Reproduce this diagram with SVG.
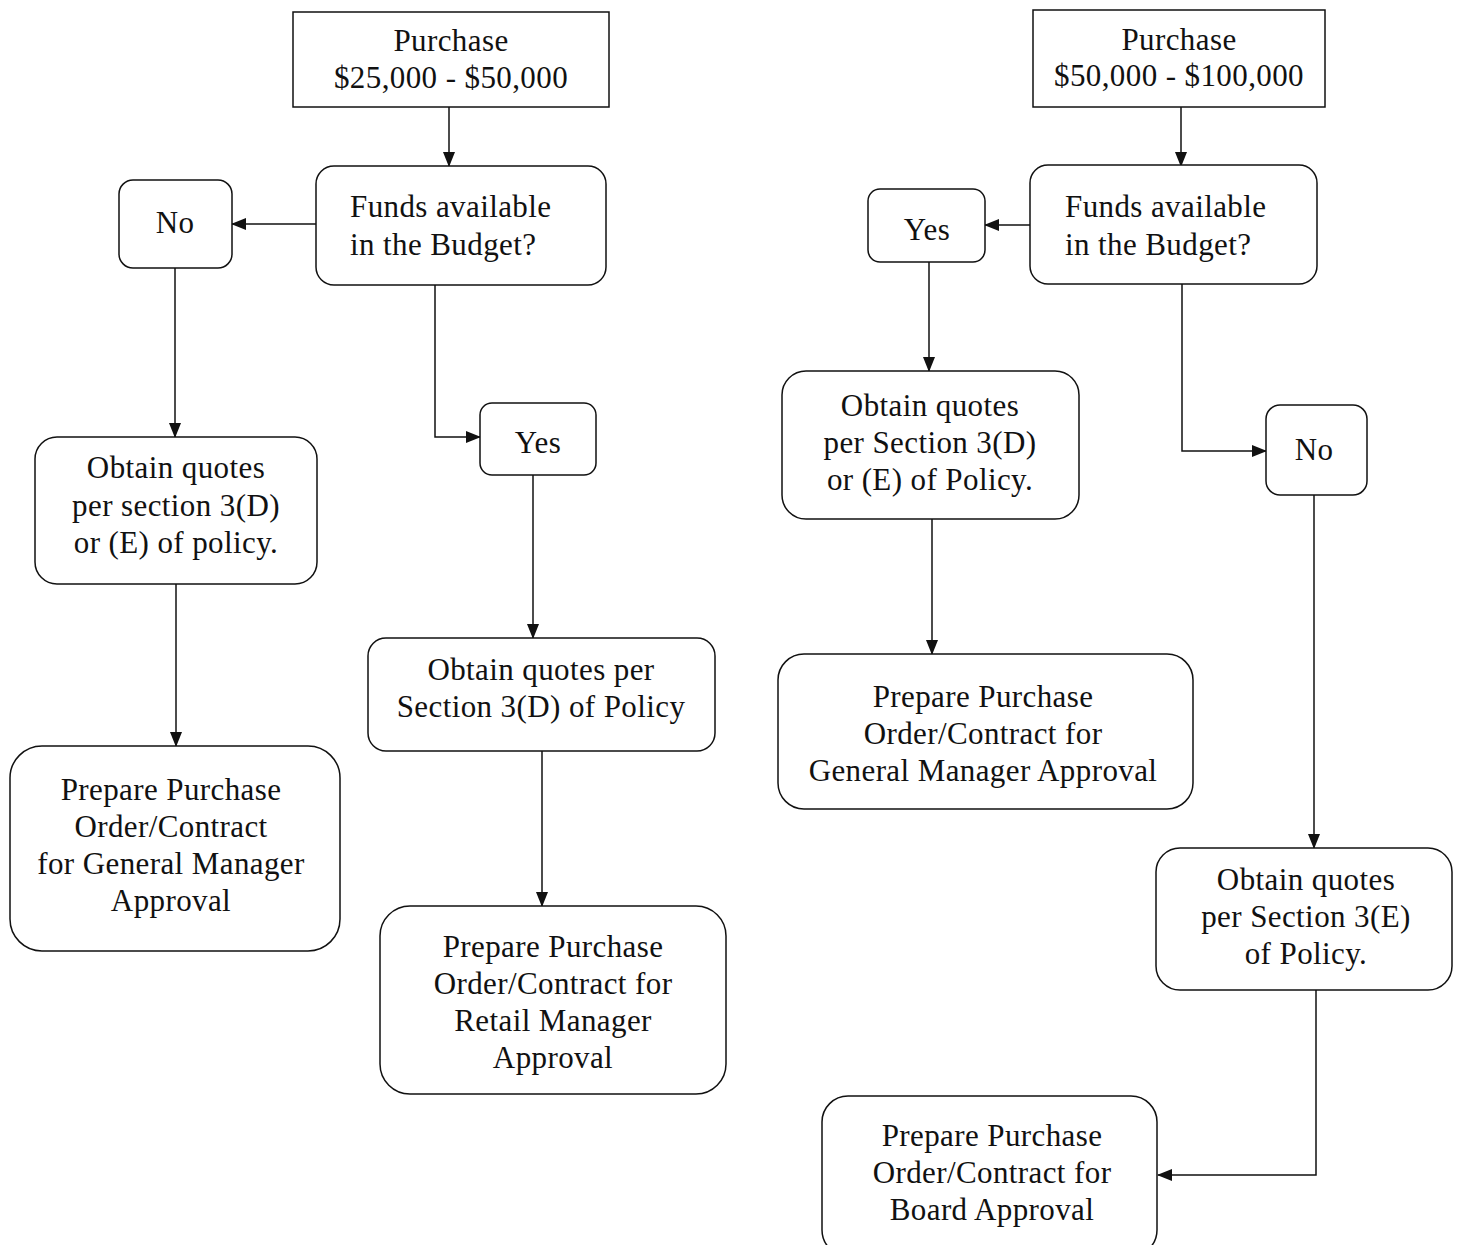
<svg xmlns="http://www.w3.org/2000/svg" width="1459" height="1245" viewBox="0 0 1459 1245">
<style>
.box{fill:#fff;stroke:#111;stroke-width:1.5}
.t{font-family:"Liberation Serif","Times New Roman",serif;font-size:31px;letter-spacing:0.4px;fill:#111;text-anchor:middle}
.tl{text-anchor:start}
.c{fill:none;stroke:#111;stroke-width:1.5}
</style>
<defs>
<marker id="ah" markerWidth="15" markerHeight="12" refX="14" refY="6" orient="auto" markerUnits="userSpaceOnUse">
<path d="M0,0 L15,6 L0,12 Z" fill="#111"/>
</marker>
</defs>
<rect width="1459" height="1245" fill="#fff"/>
<g id="connectors">
<path class="c" d="M449,107 V166" marker-end="url(#ah)"/>
<path class="c" d="M316,224 H232" marker-end="url(#ah)"/>
<path class="c" d="M175,268 V437" marker-end="url(#ah)"/>
<path class="c" d="M176,584 V746" marker-end="url(#ah)"/>
<path class="c" d="M435,285 V437 H480" marker-end="url(#ah)"/>
<path class="c" d="M533,475 V638" marker-end="url(#ah)"/>
<path class="c" d="M542,751 V906" marker-end="url(#ah)"/>
<path class="c" d="M1181,107 V166" marker-end="url(#ah)"/>
<path class="c" d="M1030,225 H985" marker-end="url(#ah)"/>
<path class="c" d="M929,262 V371" marker-end="url(#ah)"/>
<path class="c" d="M932,519 V654" marker-end="url(#ah)"/>
<path class="c" d="M1182,284 V451 H1266" marker-end="url(#ah)"/>
<path class="c" d="M1314,495 V848" marker-end="url(#ah)"/>
<path class="c" d="M1316,990 V1175 H1158" marker-end="url(#ah)"/>
</g>
<g id="purchase1">
<rect class="box" x="293" y="12" width="316" height="95"/>
<text class="t" x="451" y="51">Purchase</text>
<text class="t" x="451" y="88">$25,000 - $50,000</text>
</g>
<g id="funds1">
<rect class="box" x="316" y="166" width="290" height="119" rx="18"/>
<text class="t tl" x="350" y="217">Funds available</text>
<text class="t tl" x="350" y="255">in the Budget?</text>
</g>
<g id="no1">
<rect class="box" x="119" y="180" width="113" height="88" rx="14"/>
<text class="t" x="175" y="233">No</text>
</g>
<g id="obtain1">
<rect class="box" x="35" y="437" width="282" height="147" rx="22"/>
<text class="t" x="176" y="478">Obtain quotes</text>
<text class="t" x="176" y="516">per section 3(D)</text>
<text class="t" x="176" y="553">or (E) of policy.</text>
</g>
<g id="prepare1">
<rect class="box" x="10" y="746" width="330" height="205" rx="32"/>
<text class="t" x="171" y="800">Prepare Purchase</text>
<text class="t" x="171" y="837">Order/Contract</text>
<text class="t" x="171" y="874">for General Manager</text>
<text class="t" x="171" y="911">Approval</text>
</g>
<g id="yes1">
<rect class="box" x="480" y="403" width="116" height="72" rx="12"/>
<text class="t" x="538" y="453">Yes</text>
</g>
<g id="obtain2">
<rect class="box" x="368" y="638" width="347" height="113" rx="18"/>
<text class="t" x="541" y="680">Obtain quotes per</text>
<text class="t" x="541" y="717">Section 3(D) of Policy</text>
</g>
<g id="prepare2">
<rect class="box" x="380" y="906" width="346" height="188" rx="30"/>
<text class="t" x="553" y="957">Prepare Purchase</text>
<text class="t" x="553" y="994">Order/Contract for</text>
<text class="t" x="553" y="1031">Retail Manager</text>
<text class="t" x="553" y="1068">Approval</text>
</g>
<g id="purchase2">
<rect class="box" x="1033" y="10" width="292" height="97"/>
<text class="t" x="1179" y="50">Purchase</text>
<text class="t" x="1179" y="86">$50,000 - $100,000</text>
</g>
<g id="funds2">
<rect class="box" x="1030" y="165" width="287" height="119" rx="18"/>
<text class="t tl" x="1065" y="217">Funds available</text>
<text class="t tl" x="1065" y="255">in the Budget?</text>
</g>
<g id="yes2">
<rect class="box" x="868" y="189" width="117" height="73" rx="12"/>
<text class="t" x="927" y="240">Yes</text>
</g>
<g id="obtain3">
<rect class="box" x="782" y="371" width="297" height="148" rx="24"/>
<text class="t" x="930" y="416">Obtain quotes</text>
<text class="t" x="930" y="453">per Section 3(D)</text>
<text class="t" x="930" y="490">or (E) of Policy.</text>
</g>
<g id="prepare3">
<rect class="box" x="778" y="654" width="415" height="155" rx="26"/>
<text class="t" x="983" y="707">Prepare Purchase</text>
<text class="t" x="983" y="744">Order/Contract for</text>
<text class="t" x="983" y="781">General Manager Approval</text>
</g>
<g id="no2">
<rect class="box" x="1266" y="405" width="101" height="90" rx="14"/>
<text class="t" x="1314" y="460">No</text>
</g>
<g id="obtain4">
<rect class="box" x="1156" y="848" width="296" height="142" rx="24"/>
<text class="t" x="1306" y="890">Obtain quotes</text>
<text class="t" x="1306" y="927">per Section 3(E)</text>
<text class="t" x="1306" y="964">of Policy.</text>
</g>
<g id="prepare4">
<rect class="box" x="822" y="1096" width="335" height="160" rx="26"/>
<text class="t" x="992" y="1146">Prepare Purchase</text>
<text class="t" x="992" y="1183">Order/Contract for</text>
<text class="t" x="992" y="1220">Board Approval</text>
</g>
</svg>
